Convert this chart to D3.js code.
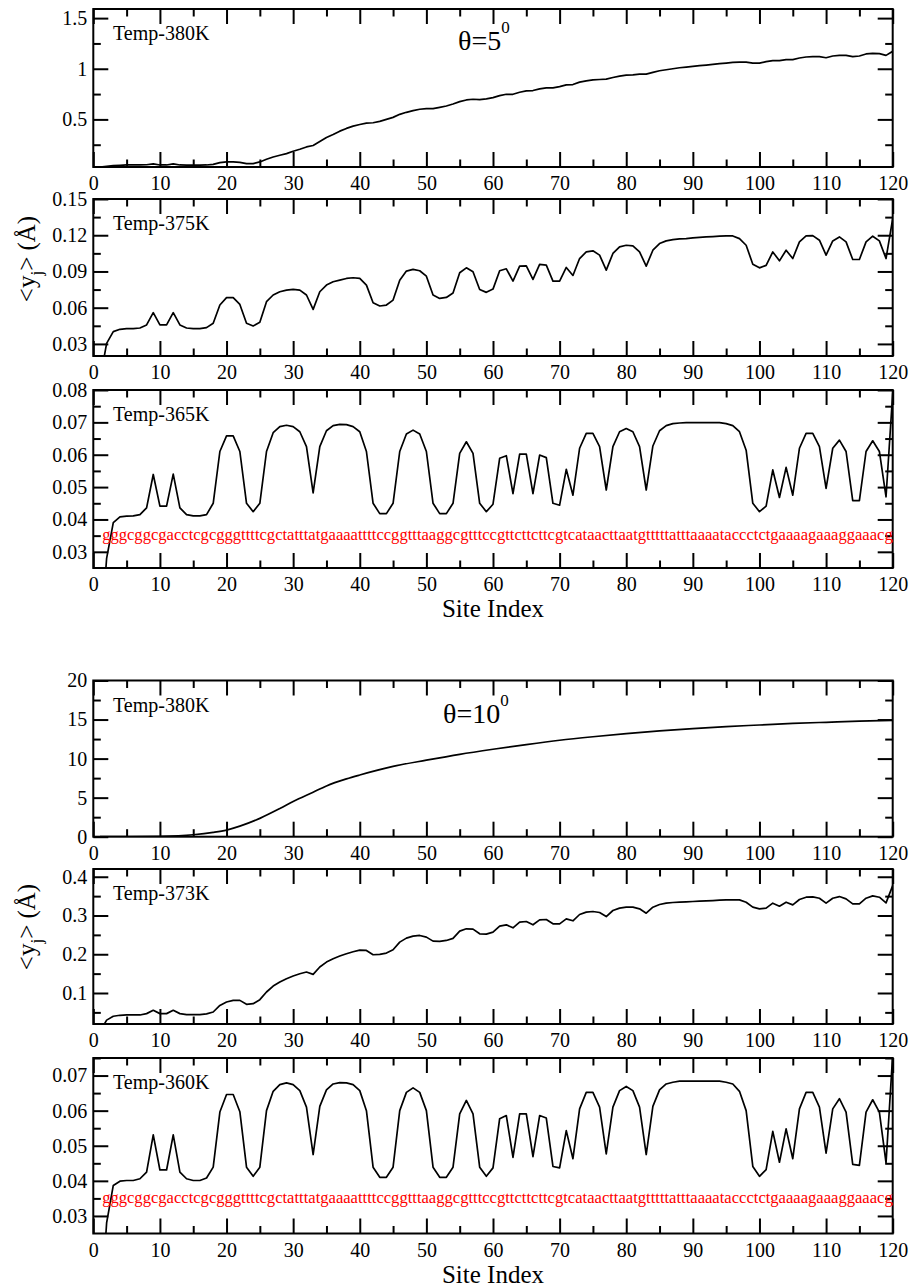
<!DOCTYPE html>
<html>
<head>
<meta charset="utf-8">
<script src="https://cdn.jsdelivr.net/npm/d3@7"></script>
<style>
  body { margin: 0; background: #fff; }
  svg { display: block; font-family: "Liberation Serif", "Times New Roman", serif; }
</style>
</head>
<body>
<svg id="chart" width="912" height="1288"></svg>
<script>
// <y_j> per site index (1..120)
var t380a = [0.03,0.036,0.043,0.047,0.05,0.05,0.05,0.052,0.06,0.05,0.05,0.06,0.05,0.048,0.048,0.048,0.05,0.056,0.073,0.08,
  0.08,0.076,0.063,0.063,0.08,0.106,0.129,0.146,0.162,0.185,0.205,0.228,0.242,0.281,0.321,0.351,0.384,0.411,0.434,0.45,
  0.464,0.467,0.48,0.5,0.52,0.55,0.57,0.586,0.6,0.606,0.606,0.619,0.632,0.652,0.675,0.692,0.699,0.695,0.702,0.715,
  0.735,0.748,0.748,0.768,0.781,0.785,0.801,0.811,0.811,0.824,0.841,0.844,0.868,0.881,0.891,0.894,0.897,0.914,0.927,0.937,
  0.94,0.947,0.947,0.964,0.98,0.99,1.0,1.01,1.017,1.023,1.03,1.036,1.043,1.05,1.056,1.063,1.066,1.066,1.056,1.056,
  1.07,1.08,1.08,1.09,1.09,1.106,1.116,1.119,1.119,1.109,1.126,1.132,1.132,1.119,1.126,1.146,1.152,1.149,1.132,1.172]

var t375 = [0.0,0.0305,0.0402,0.0421,0.0427,0.0427,0.0432,0.0457,0.0559,0.0457,0.0457,0.0559,0.0457,0.0432,0.0427,0.0427,0.0435,0.0471,0.0622,0.0683,
  0.0683,0.0627,0.0471,0.0449,0.0479,0.065,0.0705,0.0732,0.0746,0.0751,0.0746,0.0705,0.0586,0.0732,0.0787,0.0815,0.0828,0.0842,0.0848,0.0842,
  0.0787,0.0641,0.0614,0.0622,0.0663,0.0828,0.0903,0.0917,0.0906,0.0861,0.0705,0.0677,0.0685,0.0721,0.0889,0.093,0.0897,0.0751,0.0727,0.0754,
  0.0906,0.0922,0.082,0.0944,0.0947,0.0834,0.0958,0.0952,0.082,0.082,0.0933,0.0867,0.1007,0.1062,0.1071,0.1035,0.0911,0.1049,0.1104,0.1117,
  0.1112,0.1062,0.0944,0.1076,0.1131,0.1153,0.1164,0.117,0.1172,0.1178,0.1183,0.1186,0.1189,0.1192,0.1194,0.1194,0.1172,0.1117,0.096,0.093,
  0.095,0.1062,0.0988,0.1076,0.1007,0.1145,0.1194,0.1197,0.1159,0.1035,0.1153,0.1186,0.1145,0.0999,0.0999,0.1145,0.1192,0.1153,0.1007,0.1338]

var t365 = [0.0,0.028,0.039,0.0408,0.041,0.0411,0.0415,0.0436,0.0539,0.0441,0.0441,0.054,0.0436,0.0415,0.0411,0.0411,0.0415,0.045,0.061,0.0658,
  0.0658,0.061,0.045,0.0424,0.045,0.061,0.0668,0.0687,0.0691,0.0687,0.0671,0.0625,0.0482,0.0625,0.0674,0.069,0.0694,0.0693,0.0687,0.0671,
  0.061,0.045,0.0418,0.0418,0.045,0.061,0.0664,0.0676,0.0664,0.061,0.045,0.0418,0.0418,0.045,0.0604,0.064,0.0604,0.045,0.0424,0.0447,
  0.0589,0.0597,0.048,0.0602,0.0602,0.048,0.0599,0.0591,0.045,0.0444,0.0555,0.0475,0.062,0.0666,0.0666,0.0625,0.0491,0.0625,0.0671,0.0681,
  0.0671,0.0625,0.0491,0.0627,0.0674,0.069,0.0696,0.0698,0.0699,0.0699,0.0699,0.0699,0.0699,0.0699,0.0696,0.069,0.0671,0.0614,0.045,0.0424,
  0.0441,0.0553,0.0468,0.0561,0.0475,0.062,0.0666,0.0666,0.0625,0.0496,0.062,0.0645,0.061,0.0458,0.0458,0.061,0.0643,0.061,0.047,0.079]

// theta = 10 deg, 380K: smooth curve, sampled sites
var t380bSites = [1,5,10,15,18,20,22,25,28,30,33,35,38,40,45,50,55,60,65,70,75,80,85,90,95,100,105,110,115,120]
var t380b = [0,0.01,0.05,0.25,0.55,0.85,1.35,2.35,3.6,4.5,5.7,6.5,7.4,7.9,9.0,9.8,10.55,11.2,11.8,12.35,12.8,13.2,13.55,13.85,14.1,14.3,14.5,14.65,14.8,14.9]

var t373 = [0.0,0.03,0.04,0.0425,0.0433,0.0433,0.0433,0.0468,0.0554,0.0468,0.0468,0.0554,0.0468,0.0442,0.0442,0.0442,0.046,0.051,0.068,0.0768,
  0.081,0.081,0.0708,0.0725,0.0828,0.1026,0.118,0.1283,0.1369,0.1438,0.1498,0.1541,0.1481,0.167,0.1798,0.1884,0.1953,0.2013,0.2064,0.2107,
  0.2099,0.1987,0.1996,0.203,0.2116,0.2313,0.2416,0.2468,0.2485,0.2442,0.2339,0.233,0.2356,0.241,0.2597,0.2657,0.2648,0.2528,0.2519,0.2571,
  0.2725,0.276,0.2682,0.2828,0.2845,0.276,0.2888,0.2897,0.2785,0.2785,0.2914,0.2863,0.3026,0.3086,0.3103,0.3077,0.2974,0.3129,0.3189,0.3215,
  0.3215,0.3172,0.306,0.3215,0.3283,0.3318,0.3335,0.3343,0.3352,0.3361,0.3369,0.3378,0.3386,0.3395,0.3403,0.3403,0.3403,0.3343,0.3215,0.3172,
  0.3189,0.3318,0.324,0.3343,0.3275,0.3412,0.3472,0.3481,0.3446,0.3318,0.3446,0.3489,0.3429,0.33,0.33,0.3446,0.3506,0.3472,0.3326,0.3773]

var t360 = [0.0,0.028,0.0387,0.0399,0.0401,0.0401,0.0406,0.0425,0.0531,0.0431,0.0431,0.0531,0.0425,0.0406,0.0401,0.0401,0.0408,0.0439,0.0596,0.0646,
  0.0646,0.0597,0.0439,0.0413,0.0439,0.06,0.0655,0.0674,0.0679,0.0674,0.0657,0.061,0.0475,0.0612,0.0659,0.0676,0.068,0.0679,0.0674,0.0657,
  0.06,0.0439,0.041,0.041,0.0439,0.06,0.0652,0.0665,0.0652,0.06,0.0439,0.041,0.041,0.0439,0.0591,0.0629,0.0591,0.0439,0.0413,0.0437,
  0.0577,0.0586,0.0467,0.0591,0.0591,0.0469,0.0586,0.0579,0.0441,0.0437,0.0543,0.0463,0.0605,0.0652,0.0652,0.061,0.0477,0.061,0.0657,0.0669,
  0.0657,0.061,0.0475,0.0612,0.0659,0.0676,0.0681,0.0684,0.0684,0.0684,0.0684,0.0684,0.0684,0.0684,0.0681,0.0676,0.0655,0.06,0.0441,0.0413,
  0.0432,0.0541,0.0453,0.0548,0.0463,0.0605,0.0652,0.0652,0.061,0.0479,0.0605,0.0634,0.0596,0.0447,0.0444,0.0596,0.0631,0.0596,0.0451,0.076]

var sequence = "gggcggcgacctcgcgggttttcgctatttatgaaaattttccggtttaaggcgtttccgttcttcttcgtcataacttaatgtttttatttaaaataccctctgaaaagaaaggaaacg"

var xMajor = [0,10,20,30,40,50,60,70,80,90,100,110,120]
var xMinor = [5,15,25,35,45,55,65,75,85,95,105,115]

var svg = d3.select("#chart")

var x = d3.scaleLinear().domain([0, 120]).range([93.3, 892.7])
var fmt = d3.format("~g")

var panels = [
  {id: "p1", label: "Temp-380K", values: t380a, top: 9, bottom: 167, dom: [0.03, 1.59],
   major: [0.5, 1, 1.5], minor: [0.25, 0.75, 1.25]},
  {id: "p2", label: "Temp-375K", values: t375, top: 199, bottom: 356, dom: [0.02, 0.15],
   major: [0.03, 0.06, 0.09, 0.12, 0.15], minor: [0.045, 0.075, 0.105, 0.135]},
  {id: "p3", label: "Temp-365K", values: t365, top: 390, bottom: 568, dom: [0.025, 0.08],
   major: [0.03, 0.04, 0.05, 0.06, 0.07, 0.08], minor: [0.035, 0.045, 0.055, 0.065, 0.075], seq: true},
  {id: "p4", label: "Temp-380K", values: t380b, sites: t380bSites, smooth: true, top: 680.5, bottom: 836.7, dom: [0, 20],
   major: [0, 5, 10, 15, 20], minor: [2.5, 7.5, 12.5, 17.5]},
  {id: "p5", label: "Temp-373K", values: t373, top: 869, bottom: 1024, dom: [0.02, 0.42],
   major: [0.1, 0.2, 0.3, 0.4], minor: [0.05, 0.15, 0.25, 0.35]},
  {id: "p6", label: "Temp-360K", values: t360, top: 1058, bottom: 1233.5, dom: [0.025, 0.075],
   major: [0.03, 0.04, 0.05, 0.06, 0.07], minor: [0.035, 0.045, 0.055, 0.065, 0.075], seq: true}
]

var defs = svg.append("defs")

panels.forEach(function(p) {
  var y = d3.scaleLinear().domain(p.dom).range([p.bottom, p.top])
  var g = svg.append("g").attr("class", p.id)

  defs.append("clipPath").attr("id", "clip-" + p.id)
    .append("rect")
      .attr("x", x(0)).attr("y", p.top)
      .attr("width", x(120) - x(0)).attr("height", p.bottom - p.top)

  // axes: major + minor, ticks pointing inward on all four sides
  function addAxis(axis, translate, values, size, labels, pad) {
    var ax = g.append("g")
      .attr("transform", translate)
      .call(axis.tickValues(values).tickSize(-size).tickPadding(pad || 3)
        .tickFormat(labels ? fmt : ""))
    ax.attr("font-family", null)
    ax.select(".domain").remove()
    ax.selectAll("line").attr("stroke", "#000").attr("stroke-width", 2)
    ax.selectAll("text").attr("fill", "#000").style("font-size", "20px")
    return ax
  }

  addAxis(d3.axisBottom(x), "translate(0," + p.bottom + ")", xMajor, 15, true, 9)
  addAxis(d3.axisBottom(x), "translate(0," + p.bottom + ")", xMinor, 7.5, false)
  addAxis(d3.axisTop(x), "translate(0," + p.top + ")", xMajor, 15, false)
  addAxis(d3.axisTop(x), "translate(0," + p.top + ")", xMinor, 7.5, false)
  addAxis(d3.axisLeft(y), "translate(" + x(0) + ",0)", p.major, 15, true, 6)
  addAxis(d3.axisLeft(y), "translate(" + x(0) + ",0)", p.minor, 7.5, false)
  addAxis(d3.axisRight(y), "translate(" + x(120) + ",0)", p.major, 15, false)
  addAxis(d3.axisRight(y), "translate(" + x(120) + ",0)", p.minor, 7.5, false)

  // the data line
  var pts = p.values.map(function(v, i) {
    return [p.sites ? p.sites[i] : i + 1, v]
  })
  var line = d3.line()
    .x(function(d) { return x(d[0]) })
    .y(function(d) { return y(d[1]) })
  if (p.smooth) line.curve(d3.curveMonotoneX)

  g.append("path")
    .datum(pts)
    .attr("clip-path", "url(#clip-" + p.id + ")")
    .attr("fill", "none")
    .attr("stroke", "#000")
    .attr("stroke-width", 1.7)
    .attr("stroke-linejoin", "round")
    .attr("d", line)

  // frame
  g.append("rect")
    .attr("x", x(0)).attr("y", p.top)
    .attr("width", x(120) - x(0)).attr("height", p.bottom - p.top)
    .attr("fill", "none").attr("stroke", "#000").attr("stroke-width", 2)

  g.append("text")
    .attr("x", 113).attr("y", p.top + 31)
    .style("font-size", "20px")
    .text(p.label)

  if (p.seq) {
    g.append("text")
      .attr("x", x(1.33)).attr("y", y(0.0336))
      .attr("fill", "#ff0000")
      .attr("textLength", x(120) - x(1.33))
      .attr("lengthAdjust", "spacing")
      .style("font-size", "16.6px")
      .text(sequence)
  }
})

// theta labels
function theta(xp, yp, deg) {
  var t = svg.append("text").attr("x", xp).attr("y", yp).style("font-size", "28px")
  t.append("tspan").text("\u03b8=" + deg)
  t.append("tspan").attr("dy", -17).style("font-size", "17px").text("0")
}
theta(458, 50, 5)
theta(443, 723, 10)

// y axis titles
function yTitle(cy) {
  var t = svg.append("text")
    .attr("transform", "translate(35," + cy + ") rotate(-90)")
    .attr("text-anchor", "middle")
    .style("font-size", "25px")
  t.append("tspan").text("<y")
  t.append("tspan").attr("dy", 7).style("font-size", "17px").text("j")
  t.append("tspan").attr("dy", -7).text("> (\u00c5)")
}
yTitle(259)
yTitle(927)

// x axis titles
svg.append("text").attr("x", 493).attr("y", 617).attr("text-anchor", "middle")
  .style("font-size", "25px").text("Site Index")
svg.append("text").attr("x", 493).attr("y", 1283).attr("text-anchor", "middle")
  .style("font-size", "25px").text("Site Index")
</script>
</body>
</html>
